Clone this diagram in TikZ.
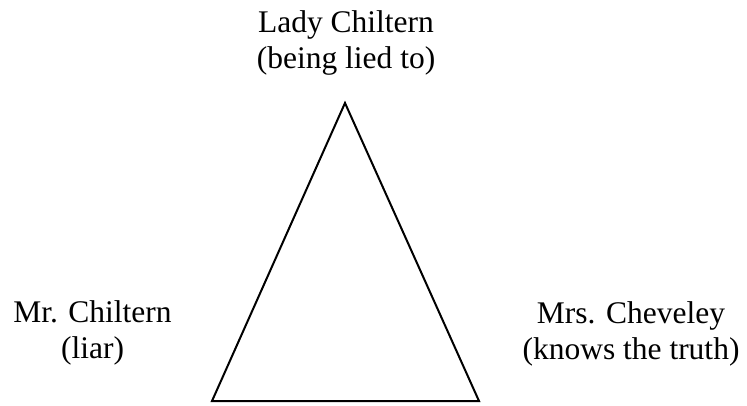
\documentclass[tikz,border=0pt]{standalone}
\usepackage{fontspec}
\setmainfont{Liberation Serif}
\usetikzlibrary{positioning}

\tikzset{
    role/.style={align=center, inner sep=0pt, font=\fontsize{31.5}{36}\selectfont},
}

\begin{document}
\begin{tikzpicture}[x=1pt, y=-1pt]

\useasboundingbox (0,0) rectangle (747,405);

\coordinate (top)   at (345,103);
\coordinate (left)  at (212,401);
\coordinate (right) at (479,401);

\draw [line width=2pt, line join=miter] (top) -- (left) -- (right) -- cycle;

\node [role] (lady)    at (346,43)  {Lady Chiltern\\(being lied to)};
\node [role] (mr)      at (92.5,333)  {Mr. Chiltern\\(liar)};
\node [role] (cheveley) at (631,334) {Mrs. Cheveley\\(knows the truth)};

\end{tikzpicture}
\end{document}
